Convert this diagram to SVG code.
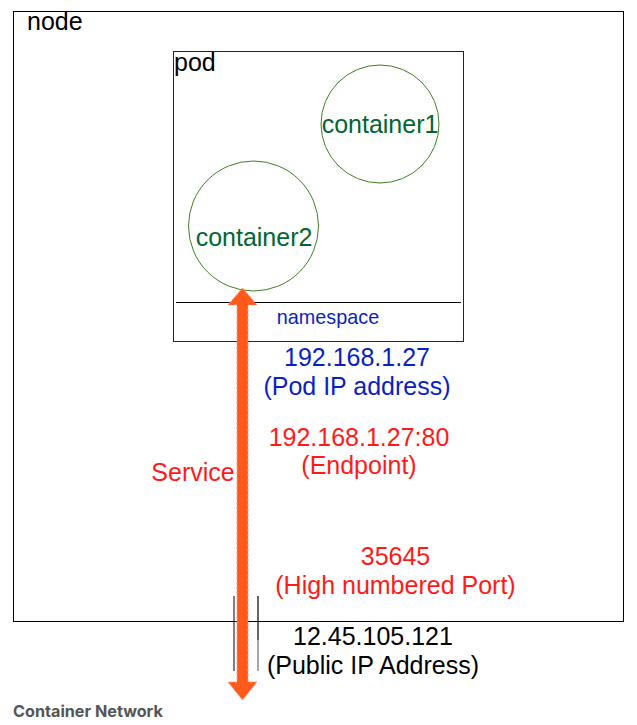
<svg xmlns="http://www.w3.org/2000/svg" width="637" height="725" viewBox="0 0 637 725">
<style>
text{font-family:"Liberation Sans",Arial,sans-serif;font-size:25px}
.c{text-anchor:middle}
.blue{fill:#0a1fc0}
.red{fill:#ff1a1a}
.green{fill:#006633}
.blk{fill:#000}
.circ{fill:none;stroke:#3f7f22;stroke-width:1}
</style>
<rect width="637" height="725" fill="#fff"/>
<g id="node">
<rect x="13.5" y="11.5" width="610" height="610" fill="none" stroke="#000" stroke-width="1"/>
<text x="27" y="30" class="blk">node</text>
</g>
<g id="pod">
<rect x="173.5" y="51.5" width="290" height="290" fill="none" stroke="#0a1a9a" stroke-width="1"/>
<text x="174" y="71" class="blk">pod</text>
<line x1="176" y1="302.5" x2="461" y2="302.5" stroke="#000" stroke-width="1"/>
<text x="328" y="324" class="c blue" style="font-size:19.8px">namespace</text>
</g>
<g id="container1">
<circle cx="380" cy="124" r="59" class="circ"/>
<text x="380" y="133" class="c green">container1</text>
</g>
<g id="container2">
<circle cx="253.5" cy="226" r="65" class="circ"/>
<text x="254" y="246" class="c green">container2</text>
</g>
<g id="labels">
<text x="357" y="366" class="c blue">192.168.1.27</text>
<text x="357" y="395" class="c blue">(Pod IP address)</text>
<text x="359" y="446" class="c red">192.168.1.27:80</text>
<text x="359" y="474" class="c red">(Endpoint)</text>
<text x="193" y="481" class="c red">Service</text>
<text x="395.5" y="565" class="c red">35645</text>
<text x="395.5" y="594" class="c red">(High numbered Port)</text>
<text x="373" y="645" class="c blk">12.45.105.121</text>
<text x="373" y="674" class="c blk">(Public IP Address)</text>
<text x="13" y="717" style="font-family:Inter,'Liberation Sans',sans-serif;font-size:16.2px;font-weight:700;fill:#555">Container Network</text>
</g>
<g id="connectors">
<line x1="234" y1="596" x2="234" y2="671" stroke="#000" stroke-width="1"/>
<line x1="258" y1="596" x2="258" y2="640" stroke="#333" stroke-width="1.5"/>
<line x1="258" y1="640" x2="258" y2="671" stroke="#888" stroke-width="1.5"/>
<path d="M242.5 288 L257 305 L248 305 L248 682 L257 682 L242.5 700 L228 682 L237 682 L237 305 L228 305 Z" fill="#ff5a1c" stroke="#ff9a80" stroke-width="1" stroke-dasharray="3 2"/>
</g>
</svg>
